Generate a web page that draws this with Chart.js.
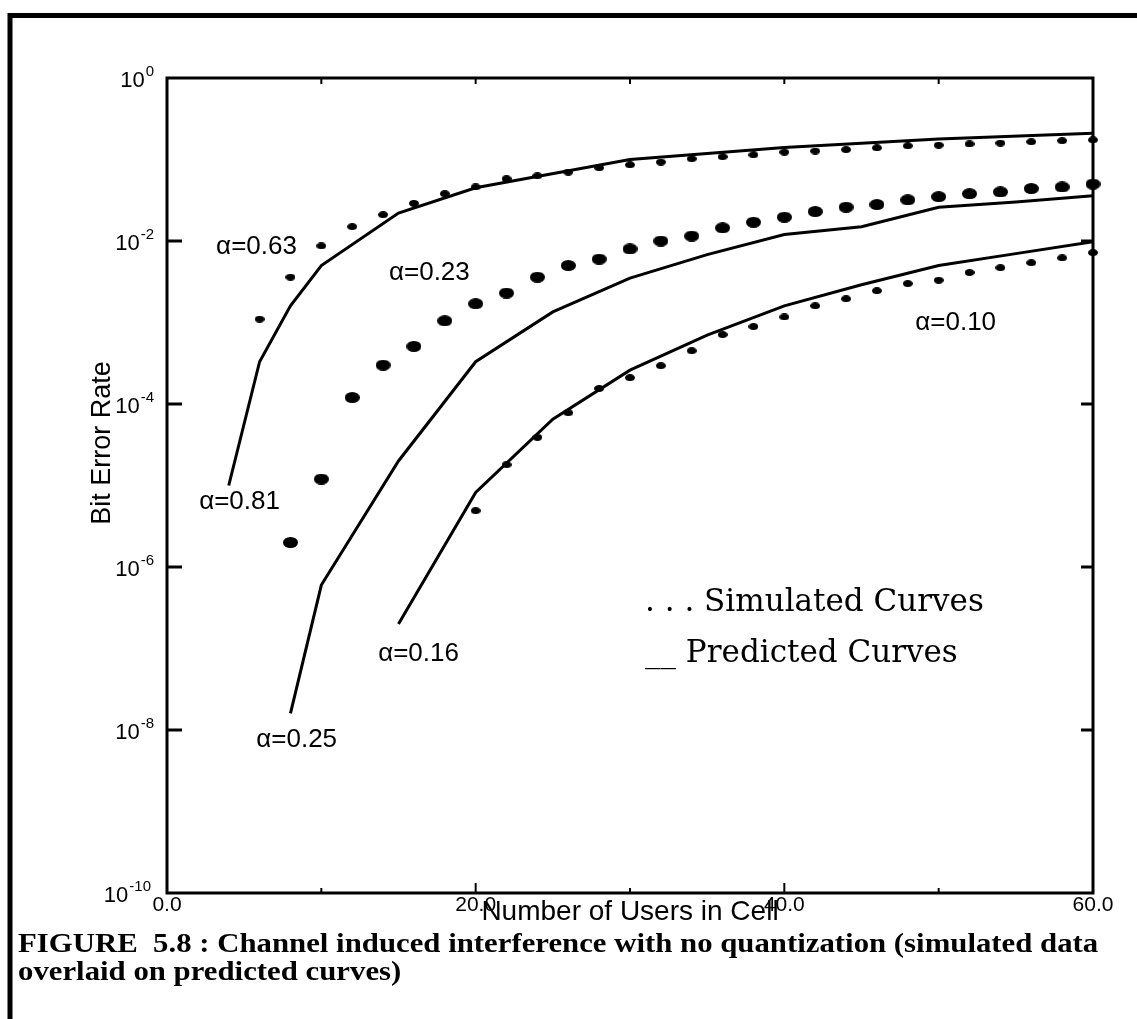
<!DOCTYPE html>
<html>
<head>
<meta charset="utf-8">
<script src="https://cdn.jsdelivr.net/npm/chart.js@4.4.0/dist/chart.umd.min.js"></script>
<style>
  html, body { margin: 0; padding: 0; background: #fff; }
  canvas { display: block; }
</style>
</head>
<body>
<canvas id="berChart" width="1137" height="1019"></canvas>
<script>
// values (x = users in cell, y = bit error rate)
const xTickValues = [0, 20, 40, 60];
const yTickExponents = [0, -2, -4, -6, -8, -10];

// predicted curves (solid)
const usersPredA81 = [4, 6, 8, 10, 15, 20, 30, 40, 50, 60];
const berPredA81 = [1.0e-5, 3.3e-4, 1.6e-3, 5.0e-3, 2.2e-2, 4.5e-2, 0.100, 0.140, 0.178, 0.210];

const usersPredA25 = [8, 10, 15, 20, 25, 30, 35, 40, 45, 50, 55, 60];
const berPredA25 = [1.6e-8, 6.0e-7, 2.0e-5, 3.3e-4, 1.35e-3, 3.5e-3, 6.8e-3, 1.2e-2, 1.5e-2, 2.6e-2, 3.0e-2, 3.6e-2];

const usersPredA16 = [15, 20, 25, 30, 35, 40, 45, 50, 55, 60];
const berPredA16 = [2.0e-7, 8.2e-6, 6.5e-5, 2.6e-4, 7.0e-4, 1.6e-3, 2.9e-3, 5.0e-3, 7.0e-3, 9.8e-3];

// simulated curves (dots)
const usersSimA63 = [6, 8, 10, 12, 14, 16, 18, 20, 22, 24, 26, 28, 30, 32, 34, 36, 38, 40, 42, 44, 46, 48, 50, 52, 54, 56, 58, 60];
const berSimA63 = [1.1e-3, 3.6e-3, 8.7e-3, 0.015, 0.021, 0.029, 0.038, 0.046, 0.058, 0.063, 0.070, 0.079, 0.086, 0.093,
  0.102, 0.108, 0.114, 0.123, 0.127, 0.132, 0.139, 0.147, 0.150, 0.155, 0.159, 0.165, 0.170, 0.174];

const usersSimA23 = [8, 10, 12, 14, 16, 18, 20, 22, 24, 26, 28, 30, 32, 34, 36, 38, 40, 42, 44, 46, 48, 50, 52, 54, 56, 58, 60];
const berSimA23 = [2.0e-6, 1.2e-5, 1.2e-4, 3.0e-4, 5.1e-4, 1.05e-3, 1.7e-3, 2.3e-3, 3.6e-3, 5.0e-3, 6.0e-3, 8.0e-3, 0.010,
  0.0115, 0.0145, 0.017, 0.0196, 0.023, 0.026, 0.028, 0.032, 0.035, 0.038, 0.040, 0.044, 0.046, 0.050];

const usersSimA10 = [20, 22, 24, 26, 28, 30, 32, 34, 36, 38, 40, 42, 44, 46, 48, 50, 52, 54, 56, 58, 60];
const berSimA10 = [4.9e-6, 1.8e-5, 3.9e-5, 7.8e-5, 1.55e-4, 2.1e-4, 2.95e-4, 4.5e-4, 7.1e-4, 8.9e-4, 1.17e-3, 1.6e-3,
  1.95e-3, 2.45e-3, 3.0e-3, 3.3e-3, 4.1e-3, 4.7e-3, 5.4e-3, 6.2e-3, 7.2e-3];

// curve labels, placed in data coordinates
const curveLabels = ['α=0.63', 'α=0.23', 'α=0.81', 'α=0.25', 'α=0.16', 'α=0.10'];
const curveLabelX = [5.8, 17.0, 4.7, 8.4, 16.3, 51.1];
const curveLabelY = [8.5e-3, 4.1e-3, 6.3e-6, 7.5e-9, 8.5e-8, 1.0e-3];

const toPoints = (xs, ys) => xs.map((v, i) => ({ x: v, y: ys[i] }));

// filled ellipse used as the point marker for the simulated data
function dotImage(w, h) {
  const c = document.createElement('canvas');
  c.width = w;
  c.height = h;
  const g = c.getContext('2d');
  g.fillStyle = '#000';
  g.beginPath();
  g.ellipse(w / 2, h / 2, w / 2, h / 2, 0, 0, Math.PI * 2);
  g.fill();
  return c;
}
const smallDot = dotImage(10, 7);
const bigDot = dotImage(15, 11);

const predicted = (xs, ys) => ({
  data: toPoints(xs, ys),
  borderColor: '#000',
  borderWidth: 3,
  pointRadius: 0,
  tension: 0,
  fill: false
});
const simulated = (xs, ys, img) => ({
  data: toPoints(xs, ys),
  showLine: false,
  pointStyle: img,
  pointRadius: 5,
  clip: false
});

const SANS = '"Liberation Sans", Arial, Helvetica, sans-serif';

// text drawn with a little horizontal stretch, like the scanned page
function wideText(ctx, txt, x0, y0, sx) {
  ctx.save();
  ctx.translate(x0, y0);
  ctx.scale(sx, 1);
  ctx.fillText(txt, 0, 0);
  ctx.restore();
}

const figureDecor = {
  id: 'figureDecor',
  afterDraw(chart) {
    const { ctx, chartArea: a, scales: { x, y } } = chart;
    ctx.save();
    ctx.strokeStyle = '#000';
    ctx.fillStyle = '#000';

    // page rules (top and left) of the scanned page
    ctx.lineWidth = 5;
    ctx.beginPath();
    ctx.moveTo(10, 1019);
    ctx.lineTo(10, 15.5);
    ctx.lineTo(1137, 15.5);
    ctx.stroke();

    // plot box
    ctx.lineWidth = 3;
    ctx.strokeRect(a.left, a.top, a.right - a.left, a.bottom - a.top);

    // inward tick marks
    ctx.beginPath();
    [-2, -4, -6, -8].forEach(e => {
      const py = y.getPixelForValue(Math.pow(10, e));
      ctx.moveTo(a.left, py); ctx.lineTo(a.left + 15, py);
      ctx.moveTo(a.right, py); ctx.lineTo(a.right - 12, py);
    });
    ctx.stroke();
    ctx.lineWidth = 2;
    ctx.beginPath();
    [10, 20, 30, 40, 50].forEach(v => {
      const px = x.getPixelForValue(v);
      const len = v % 20 === 0 ? 10 : 5;
      ctx.moveTo(px, a.bottom); ctx.lineTo(px, a.bottom - len);
      ctx.moveTo(px, a.top); ctx.lineTo(px, a.top + 6);
    });
    ctx.stroke();

    // y tick labels with superscript exponents
    ctx.textAlign = 'left';
    ctx.textBaseline = 'alphabetic';
    yTickExponents.forEach(e => {
      const py = y.getPixelForValue(Math.pow(10, e));
      ctx.font = '22px ' + SANS;
      const wBase = ctx.measureText('10').width;
      ctx.font = '15px ' + SANS;
      const expTxt = String(e);
      const wExp = ctx.measureText(expTxt).width;
      const right = e === -10 ? a.left - 16 : a.left - 13;
      const x0 = right - wBase - wExp - 1;
      ctx.font = '22px ' + SANS;
      ctx.fillText('10', x0, py + 9);
      ctx.font = '15px ' + SANS;
      ctx.fillText(expTxt, x0 + wBase + 1, py - 2);
    });

    // y axis title
    ctx.save();
    ctx.translate(103, 443);
    ctx.rotate(-Math.PI / 2);
    ctx.font = '27px ' + SANS;
    ctx.textAlign = 'center';
    ctx.textBaseline = 'middle';
    ctx.fillText('Bit Error Rate', 0, 0);
    ctx.restore();

    // curve labels
    ctx.font = '26px ' + SANS;
    ctx.textAlign = 'center';
    ctx.textBaseline = 'middle';
    curveLabels.forEach((t, i) => {
      ctx.fillText(t, x.getPixelForValue(curveLabelX[i]), y.getPixelForValue(curveLabelY[i]));
    });

    // legend text
    ctx.font = '31px "DejaVu Serif", "Liberation Serif", serif';
    ctx.textAlign = 'left';
    ctx.textBaseline = 'alphabetic';
    ctx.fillText('. . . Simulated Curves', 645, 611);
    ctx.fillText('__ Predicted Curves', 645, 662);

    // figure caption
    ctx.font = 'bold 27px "Liberation Serif", "Times New Roman", serif';
    wideText(ctx, 'FIGURE  5.8 : Channel induced interference with no quantization (simulated data', 18, 952, 1.14);
    wideText(ctx, 'overlaid on predicted curves)', 18, 980, 1.14);
    ctx.restore();
  }
};

new Chart(document.getElementById('berChart').getContext('2d'), {
  type: 'line',
  data: {
    datasets: [
      predicted(usersPredA81, berPredA81),
      predicted(usersPredA25, berPredA25),
      predicted(usersPredA16, berPredA16),
      simulated(usersSimA63, berSimA63, smallDot),
      simulated(usersSimA23, berSimA23, bigDot),
      simulated(usersSimA10, berSimA10, smallDot)
    ]
  },
  options: {
    responsive: false,
    animation: false,
    devicePixelRatio: 1,
    layout: { padding: { top: 78, right: 44, left: 0, bottom: 0 } },
    plugins: {
      legend: { display: false },
      tooltip: { enabled: false }
    },
    scales: {
      x: {
        type: 'linear',
        min: 0,
        max: 60,
        afterBuildTicks: s => { s.ticks = xTickValues.map(v => ({ value: v })); },
        afterFit: s => { s.height = 1019 - 893; },
        grid: { display: false, drawTicks: false },
        border: { display: false },
        ticks: {
          padding: 0,
          maxRotation: 0,
          autoSkip: false,
          color: '#000',
          font: { family: SANS, size: 21 },
          callback: v => v.toFixed(1)
        },
        title: {
          display: true,
          text: 'Number of Users in Cell',
          color: '#000',
          font: { family: SANS, size: 28 },
          padding: { top: 0, bottom: 90 }
        }
      },
      y: {
        type: 'logarithmic',
        min: 1e-10,
        max: 1,
        afterBuildTicks: s => { s.ticks = yTickExponents.map(e => ({ value: Math.pow(10, e) })); },
        afterFit: s => { s.width = 167; },
        grid: { display: false, drawTicks: false },
        border: { display: false },
        ticks: { display: false },
        title: { display: false }
      }
    }
  },
  plugins: [figureDecor]
});
</script>
</body>
</html>
